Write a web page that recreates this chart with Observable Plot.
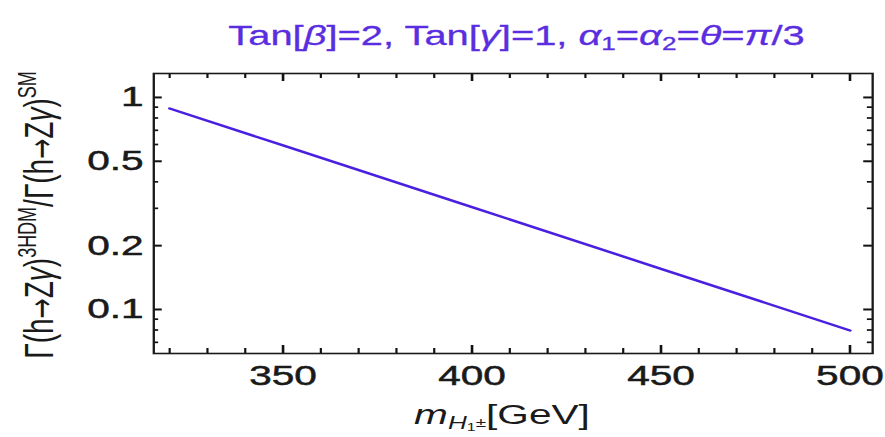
<!DOCTYPE html>
<html><head><meta charset="utf-8">
<script src="https://cdn.jsdelivr.net/npm/d3@7"></script>
<script src="https://cdn.jsdelivr.net/npm/@observablehq/plot@0.6"></script>
<style>html,body{margin:0;padding:0;background:#fff;overflow:hidden}#chart svg{display:block}</style>
</head><body><div id="chart"></div>
<script>
// data
const masses = [320, 350, 400, 450, 500];
const ratios = [0.887, 0.594, 0.304, 0.1555, 0.0796];
const xMajorTicks = [350, 400, 450, 500];
const xMinorTicks = [320, 330, 340, 360, 370, 380, 390, 410, 420, 430, 440, 460, 470, 480, 490];
const yMajorTicks = [0.1, 0.2, 0.5, 1];
const yTickLabels = ["0.1", "0.2", "0.5", "1"];
const yMinorTicks = [0.07, 0.08, 0.09, 0.3, 0.4, 0.6, 0.7, 0.8, 0.9];

const W = 610, H = 437, OUTW = 885; // chart is horizontally stretched like the reference
const M = {left: 105.5, right: 9, top: 73, bottom: 84};
const IW = W - M.left - M.right, IH = H - M.top - M.bottom;
const FONT = "Liberation Sans, Arial, sans-serif";
const XDOM = [315.8, 506], YDOM = [0.062, 1.297];
const data = masses.map((m, i) => ({m, r: ratios[i]}));
const lbl = new Map(yMajorTicks.map((t, i) => [t, yTickLabels[i]]));

// inward frame ticks: full-span ticks inset so that only a short piece remains
const TC = "#111";
const xTicks = (ticks, len, atTop, sw) => Plot.tickX(ticks, {x: d => d, stroke: TC, strokeWidth: sw,
  ...(atTop ? {insetBottom: IH - len} : {insetTop: IH - len})});
const yTicks = (ticks, len, atRight, sw) => Plot.tickY(ticks, {y: d => d, stroke: TC, strokeWidth: sw,
  ...(atRight ? {insetLeft: IW - len} : {insetRight: IW - len})});

const svg = Plot.plot({
  width: W, height: H,
  marginLeft: M.left, marginRight: M.right, marginTop: M.top, marginBottom: M.bottom,
  style: {fontFamily: FONT, background: "#fff", color: "#1a1a1a"},
  x: {domain: XDOM},
  y: {type: "log", domain: YDOM},
  marks: [
    Plot.axisX({anchor: "bottom", ticks: xMajorTicks, tickSize: 0, tickPadding: 12, fontSize: 28, fill: "#1a1a1a", label: null, tickFormat: d => String(d)}),
    Plot.axisY({anchor: "left", ticks: yMajorTicks, tickSize: 0, tickPadding: 7, fontSize: 28, fill: "#1a1a1a", label: null, tickFormat: d => lbl.get(d)}),
    xTicks(xMajorTicks, 8, false, 1.8), xTicks(xMinorTicks, 5, false, 1.5),
    xTicks(xMajorTicks, 8, true, 1.8), xTicks(xMinorTicks, 5, true, 1.5),
    yTicks(yMajorTicks, 6, false, 2), yTicks(yMinorTicks, 3.5, false, 1.7),
    yTicks(yMajorTicks, 6, true, 2), yTicks(yMinorTicks, 3.5, true, 1.7),
    Plot.frame({stroke: "#1a1a1a", strokeWidth: 1.6}),
    Plot.line(data, {x: "m", y: "r", stroke: "#4a1fe0", strokeWidth: 2.4})
  ]
});

svg.setAttribute("viewBox", `0 0 ${W} ${H}`);
svg.setAttribute("preserveAspectRatio", "none");
svg.setAttribute("width", OUTW);
svg.setAttribute("height", H);
svg.style.width = OUTW + "px";
svg.style.height = H + "px";
svg.style.maxWidth = "none";

const s = d3.select(svg);
s.selectAll("g[aria-label$='tick label'] text").attr("stroke", "#1a1a1a").attr("stroke-width", 0.5);
function addParts(textSel, parts) {
  parts.forEach(p => {
    const t = textSel.append("tspan").text(p.t);
    if (p.i) t.attr("font-style", "italic");
    if (p.fs) t.attr("font-size", p.fs);
    if (p.dy) t.attr("dy", p.dy);
    if (p.ff) t.attr("font-family", p.ff);
  });
}
const ARROW = "DejaVu Sans, sans-serif";
// title
const title = s.append("text")
  .attr("x", 356).attr("y", 45).attr("text-anchor", "middle")
  .attr("font-family", FONT).attr("font-size", 27.5).attr("fill", "#5a2ee0")
  .attr("stroke", "#5a2ee0").attr("stroke-width", 0.3);
addParts(title, [
  {t: "Tan["}, {t: "β", i: 1}, {t: "]=2, Tan["}, {t: "γ", i: 1}, {t: "]=1, "},
  {t: "α", i: 1}, {t: "1", fs: 18, dy: 5}, {t: "=", dy: -5},
  {t: "α", i: 1}, {t: "2", fs: 18, dy: 5}, {t: "=", dy: -5},
  {t: "θ", i: 1}, {t: "="}, {t: "π", i: 1}, {t: "/3"}
]);
// x label
const xl = s.append("text")
  .attr("x", 346).attr("y", 424).attr("text-anchor", "middle")
  .attr("font-family", FONT).attr("font-size", 28).attr("fill", "#1a1a1a");
addParts(xl, [
  {t: "m", i: 1}, {t: "H", i: 1, fs: 18, dy: 5}, {t: "1", fs: 11, dy: 2}, {t: "±", fs: 13, dy: -4},
  {t: "[GeV]", dy: -3}
]);
// y label
const yl = s.append("text")
  .attr("transform", "translate(36.5,215) rotate(-90)").attr("text-anchor", "middle")
  .attr("font-family", FONT).attr("font-size", 28).attr("fill", "#1a1a1a");
addParts(yl, [
  {t: "Γ(h"}, {t: "→", ff: ARROW, fs: 24}, {t: "Z"}, {t: "γ", i: 1}, {t: ")"}, {t: "3HDM", fs: 18, dy: -12},
  {t: "/Γ(h", dy: 12}, {t: "→", ff: ARROW, fs: 24}, {t: "Z"}, {t: "γ", i: 1}, {t: ")"}, {t: "SM", fs: 18, dy: -12}
]);

document.getElementById("chart").appendChild(svg);
</script></body></html>
